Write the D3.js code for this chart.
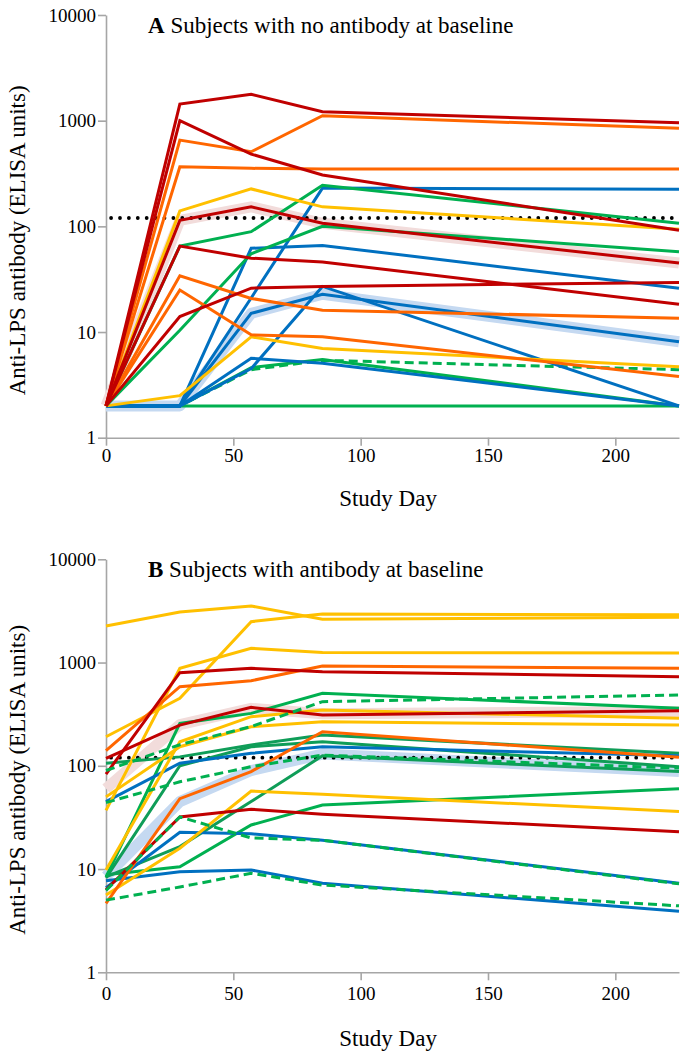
<!DOCTYPE html>
<html><head><meta charset="utf-8">
<script src="https://cdn.jsdelivr.net/npm/d3@7"></script>
<style>
body{margin:0;background:#fff;}
svg{display:block;font-family:"Liberation Serif","Times New Roman",serif;}
</style></head>
<body><svg id="c" width="685" height="1055"></svg>
<script>
// ---------- shared axes data ----------
const days = [0, 29, 57, 85, 225];
const xTicks = [0, 50, 100, 150, 200];
const yTicks = [1, 10, 100, 1000, 10000];
const threshold = 120;

// ---------- Panel A: subjects with no antibody at baseline ----------
const aRed1 = [2, 1436, 1774, 1213, 955];
const aRed2 = [2, 1000, 483, 306, 92];
const aRed3 = [2, 114, 153, 107, 45];
const aRed4 = [2, 65, 50, 46, 18.3];
const aRed5 = [2, 14, 26, 27, 29.5];
const aOrange1 = [2, 655, 508, 1113, 846];
const aOrange2 = [2, 366, 354, 349, 349];
const aOrange3 = [2, 34, 20.8, 16.1, 13.5];
const aOrange4 = [2, 25, 9.4, 9.0, 3.8];
const aYellow1 = [2, 140, 226, 153, 94];
const aYellow2 = [2, 2.5, 9.0, 7.0, 4.7];
const aGreen1 = [2, 65, 89, 245, 107];
const aGreen2 = [2, 10.4, 55, 100, 57.5];
const aGreen3 = [2, 2, 4.6, 5.5, 2];
const aGreen4 = [2, 2, 2, 2, 2];
const aGreenDash1 = [2, 2, 4.4, 5.4, 4.4];
const aBlue1 = [2, 2, 21, 230, 224];
const aBlue2 = [2, 2, 62, 66, 26];
const aBlue3 = [2, 2, 15, 22.8, 8.1];
const aBlue4 = [2, 2, 4.5, 27, 2];
const aBlue5 = [2, 2, 5.65, 5.06, 2];
const aBandRed = [2, 114, 153, 107, 45];
const aBandBlue = [2, 2, 15, 22.8, 8.1];

// ---------- Panel B: subjects with antibody at baseline ----------
const bYellow1 = [2260, 3090, 3530, 2625, 2750];
const bYellow2 = [191, 451, 2490, 2950, 2900];
const bYellow3 = [37, 880, 1373, 1250, 1240];
const bYellow4 = [9.8, 171, 299, 347, 288];
const bYellow5 = [50, 153, 239, 267, 248];
const bYellow6 = [5.6, 15.9, 57, 53, 36];
const bOrange1 = [140, 584, 667, 927, 880];
const bOrange2 = [4.65, 48, 88, 214, 121];
const bRed1 = [83, 798, 880, 815, 730];
const bRed2 = [118, 248, 368, 310, 342];
const bRed3 = [6.3, 32, 38, 34, 23];
const bBlue1 = [45, 106, 132, 153, 125];
const bBlue2 = [6.6, 22.7, 22, 19, 7.3];
const bBlue3 = [7.7, 9.4, 9.8, 7.3, 3.9];
const bGreen1 = [8.4, 257, 322, 504, 360];
const bGreen2 = [106, 122, 159, 199, 132];
const bGreen3 = [8.2, 100, 153, 171, 98];
const bGreen4 = [8.4, 16.5, 45, 125, 88];
const bGreen5 = [8.8, 10.5, 26.7, 41.7, 60];
const bGreenDash1 = [90, 160, 240, 418, 485];
const bGreenDash2 = [44, 70, 98, 127, 95];
const bGreenDash3 = [6.2, 32, 20, 19, 7.2];
const bGreenDash4 = [5.0, 6.7, 9.1, 7.0, 4.4];
const bBandRed = [60, 250, 360, 320, 335];
const bBandBlue = [8.5, 45, 90, 130, 88];

// ---------- styles ----------
const C = {red:"#c00000", orange:"#ff6600", yellow:"#ffc000", green:"#00b050",
           dkgreen:"#0f9d58", blue:"#0070c0", bandRed:"#f2dcdb", bandBlue:"#c5d9f1"};
const FONT = '"Liberation Serif","Times New Roman",serif';

const panels = [
  {top:15, bottom:437.7, label:"A", title:" Subjects with no antibody at baseline",
   tickPad:3, xTitleY:506,
   bands:[[aBandRed,C.bandRed],[aBandBlue,C.bandBlue]],
   series:[
    [aGreen4,C.green,0],[aGreen3,C.green,0],[aGreenDash1,C.green,1],
    [aBlue5,C.blue,0],[aBlue4,C.blue,0],[aBlue3,C.blue,0],[aBlue2,C.blue,0],[aBlue1,C.blue,0],
    [aYellow2,C.yellow,0],[aGreen2,C.green,0],[aGreen1,C.green,0],
    [aOrange4,C.orange,0],[aOrange3,C.orange,0],[aYellow1,C.yellow,0],
    [aOrange2,C.orange,0],[aOrange1,C.orange,0],
    [aRed5,C.red,0],[aRed4,C.red,0],[aRed3,C.red,0],[aRed2,C.red,0],[aRed1,C.red,0]
   ]},
  {top:559.3, bottom:972.3, label:"B", title:" Subjects with antibody at baseline",
   tickPad:6, xTitleY:1046,
   bands:[[bBandRed,C.bandRed],[bBandBlue,C.bandBlue]],
   series:[
    [bGreen5,C.green,0],[bGreen4,C.dkgreen,0],[bGreen3,C.dkgreen,0],[bGreen2,C.dkgreen,0],[bGreen1,C.green,0],
    [bBlue3,C.blue,0],[bBlue2,C.blue,0],[bBlue1,C.blue,0],
    [bYellow6,C.yellow,0],[bYellow5,C.yellow,0],[bYellow4,C.yellow,0],[bYellow3,C.yellow,0],[bYellow2,C.yellow,0],[bYellow1,C.yellow,0],
    [bOrange2,C.orange,0],[bOrange1,C.orange,0],
    [bRed3,C.red,0],[bRed2,C.red,0],[bRed1,C.red,0],
    [bGreenDash4,C.green,1],[bGreenDash3,C.green,1],[bGreenDash2,C.green,1],[bGreenDash1,C.green,1]
   ]}
];

const svg = d3.select("#c");
const x = d3.scaleLinear().domain([0, 225]).range([106, 679]);
const axisColor = "#a6a6a6";

panels.forEach(p => {
  const y = d3.scaleLog().domain([1, 10000]).range([p.bottom, p.top]);
  const g = svg.append("g");
  const line = d3.line().x((d,i)=>x(days[i])).y(d=>y(d));

  // axes
  const ya = g.append("g").attr("transform",`translate(${x(0)},0)`)
    .call(d3.axisLeft(y).tickValues(yTicks).tickFormat(d3.format("d")).tickSize(8).tickSizeOuter(0).tickPadding(2));
  const xa = g.append("g").attr("transform",`translate(0,${y(1)})`)
    .call(d3.axisBottom(x).tickValues(xTicks).tickFormat(d3.format("d")).tickSize(8).tickSizeOuter(0).tickPadding(p.tickPad));
  [ya, xa].forEach(a => {
    a.attr("font-family", FONT).attr("font-size", 19);
    a.select(".domain").attr("stroke", axisColor).attr("stroke-width", 1.6);
    a.selectAll(".tick line").attr("stroke", axisColor).attr("stroke-width", 1.6);
    a.selectAll(".tick text").attr("fill","#000").style("font-family",FONT).style("font-size","19px");
  });

  // bands
  p.bands.forEach(([vals,col]) => {
    g.append("path").attr("d", line(vals)).attr("fill","none").attr("stroke",col)
      .attr("stroke-width",11).attr("stroke-linejoin","round").attr("stroke-linecap","butt");
  });

  // threshold dotted line
  g.append("path").attr("d", d3.line()([[x(2), y(threshold)],[x(225), y(threshold)]]))
    .attr("stroke","#000").attr("stroke-width",3.8).attr("stroke-linecap","round")
    .attr("stroke-dasharray","0 8.9").attr("fill","none");

  // series
  p.series.forEach(([vals,col,dash]) => {
    g.append("path").attr("d", line(vals)).attr("fill","none").attr("stroke",col)
      .attr("stroke-width",3).attr("stroke-dasharray", dash ? "9 5" : null);
  });

  // title
  const t = g.append("text").attr("x",148).attr("y",p.top+17.5).style("font-family",FONT).style("font-size","23px");
  t.append("tspan").attr("font-weight","bold").text(p.label);
  t.append("tspan").text(p.title);

  // axis titles
  g.append("text").attr("transform",`translate(25,${(p.top+p.bottom)/2+14}) rotate(-90)`)
    .attr("text-anchor","middle").style("font-family",FONT).style("font-size","23px").text("Anti-LPS antibody (ELISA units)");
  g.append("text").attr("x",388).attr("y",p.xTitleY).attr("text-anchor","middle")
    .style("font-family",FONT).style("font-size","23px").text("Study Day");
});
</script></body></html>
